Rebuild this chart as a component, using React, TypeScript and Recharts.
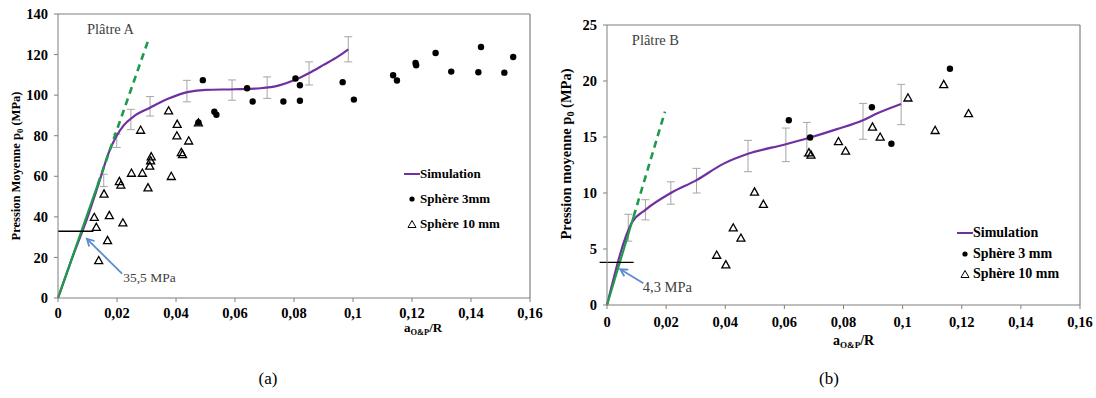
import {
  ComposedChart,
  Line,
  Scatter,
  XAxis,
  YAxis,
  ReferenceLine,
  ReferenceDot,
  ErrorBar,
} from "recharts";

const FONT = "'Liberation Serif', 'Times New Roman', serif";

const xTicks = [0, 0.02, 0.04, 0.06, 0.08, 0.1, 0.12, 0.14, 0.16];
const yTicksA = [0, 20, 40, 60, 80, 100, 120, 140];
const yTicksB = [0, 5, 10, 15, 20, 25];

// ---- Plâtre A ----
const simA: [number, number][] = [
  [0, 0], [0.005, 20.5], [0.0103, 41], [0.0137, 56], [0.0177, 73.5], [0.0197, 79.5],
  [0.0222, 85], [0.0255, 89.3], [0.0312, 93.8], [0.0375, 98.3], [0.0443, 101.6],
  [0.05, 102.6], [0.06, 102.9], [0.0686, 103.4], [0.075, 104.8], [0.08, 107.3],
  [0.085, 110.8], [0.09, 114.9], [0.095, 119.1], [0.0984, 122.6],
];
const errA: [number, number, number][] = [
  [0.0155, 58, 3], [0.0199, 77.5, 3.3], [0.0247, 88, 5], [0.0312, 94.5, 4.8],
  [0.0437, 102, 5.3], [0.059, 102.5, 5], [0.0709, 103.7, 5.3], [0.0851, 110.7, 5.7],
  [0.0984, 122.6, 6.2],
];
const greenSolidA: [number, number][] = [[0, 0], [0.0135, 56]];
const greenDashA: [number, number][] = [[0.0135, 56], [0.0307, 127.5]];
const sphere3A: [number, number][] = [
  [0.0491, 107.4], [0.053, 91.8], [0.0537, 90.3], [0.0476, 86.6], [0.0641, 103.4],
  [0.066, 96.9], [0.0764, 96.9], [0.0805, 108.2], [0.082, 104.9], [0.082, 97.2],
  [0.0965, 106.4], [0.1003, 97.8], [0.1136, 109.8], [0.1149, 107.2], [0.1212, 115.9],
  [0.1214, 114.7], [0.128, 120.8], [0.1333, 111.6], [0.1434, 123.7], [0.1425, 111.3],
  [0.1513, 111.1], [0.1543, 118.8],
];
const sphere10A: [number, number][] = [
  [0.0375, 92.3], [0.0404, 85.7], [0.0403, 80], [0.0443, 77.5], [0.0418, 71.8],
  [0.0422, 70.8], [0.028, 82.8], [0.0316, 69.7], [0.0314, 67.7], [0.0311, 65.1],
  [0.0249, 61.6], [0.0286, 61.6], [0.0384, 60], [0.0208, 57.5], [0.0213, 55.7],
  [0.0305, 54.4], [0.0156, 51.3], [0.0123, 39.8], [0.0174, 40.7], [0.013, 34.9],
  [0.022, 37.1], [0.0168, 28.4], [0.0138, 18.5], [0.0476, 86.4],
];
const thresholdA: [number, number][] = [[0, 32.9], [0.012, 32.9]];
const arrowA: [number, number][] = [[0.0217, 12], [0.0098, 29.2]];

// ---- Plâtre B ----
const simB: [number, number][] = [
  [0, 0], [0.0085, 7.4], [0.013, 8.5], [0.0216, 10], [0.0303, 11.15], [0.0393, 12.6],
  [0.0477, 13.5], [0.0605, 14.35], [0.0687, 14.95], [0.0778, 15.7], [0.0866, 16.5],
  [0.0913, 17.1], [0.0995, 17.95],
];
const errB: [number, number, number][] = [
  [0.0072, 6.9, 1.2], [0.013, 8.5, 0.9], [0.0216, 10, 1], [0.0303, 11.1, 1.1],
  [0.0477, 13.3, 1.4], [0.0605, 14.3, 1.5], [0.0676, 14.8, 1.5], [0.0866, 16.4, 1.6],
  [0.0995, 17.9, 1.8],
];
const greenSolidB: [number, number][] = [[0, 0], [0.009, 7.9]];
const greenDashB: [number, number][] = [[0.009, 7.9], [0.0196, 17.26]];
const sphere3B: [number, number][] = [
  [0.0615, 16.5], [0.0687, 14.95], [0.0896, 17.65], [0.0962, 14.4], [0.116, 21.1],
];
const sphere10B: [number, number][] = [
  [0.0499, 10.1], [0.0529, 9], [0.0427, 6.9], [0.0453, 5.98], [0.0371, 4.46],
  [0.0402, 3.6], [0.0683, 13.6], [0.069, 13.4], [0.0783, 14.6], [0.0807, 13.75],
  [0.0898, 15.9], [0.0924, 15], [0.1018, 18.5], [0.1139, 19.7], [0.1223, 17.1],
  [0.111, 15.6],
];
const thresholdB: [number, number][] = [[-0.0025, 3.81], [0.009, 3.81]];
const arrowB: [number, number][] = [[0.0123, 1.94], [0.0045, 3.19]];

const xy = (pts: [number, number][]) => pts.map(([x, y]) => ({ x, y }));
const xye = (pts: [number, number, number][]) => pts.map(([x, y, e]) => ({ x, y, e }));

const fmt = (v: number) => (v === 0 ? "0" : String(v).replace(".", ","));

const PURPLE = "#7030a0";
const GREEN = "#1e9a4c";
const AXIS = "#7f7f7f";
const ARROW = "#5b8bd0";

const Dot = (p: any) => <circle cx={p.cx} cy={p.cy} r={3.2} fill="#000" />;
const Tri = (p: any) => {
  const s = 4;
  return (
    <polygon
      points={`${p.cx},${p.cy - s} ${p.cx + s},${p.cy + s * 0.8} ${p.cx - s},${p.cy + s * 0.8}`}
      fill="none"
      stroke="#000"
      strokeWidth={1.3}
    />
  );
};
const NoShape = () => <g />;

const Arrow = (p: any) => {
  const { x1, y1, x2, y2 } = p;
  const a = Math.atan2(y2 - y1, x2 - x1);
  const L = 8;
  const w = 0.5;
  return (
    <g>
      <line x1={x1} y1={y1} x2={x2} y2={y2} stroke={ARROW} strokeWidth={1.8} />
      <polyline
        points={`${x2 - L * Math.cos(a - w)},${y2 - L * Math.sin(a - w)} ${x2},${y2} ${x2 - L * Math.cos(a + w)},${y2 - L * Math.sin(a + w)}`}
        fill="none"
        stroke={ARROW}
        strokeWidth={1.8}
      />
    </g>
  );
};

const tickStyle = { fontSize: 14.5, fontWeight: 700, fill: "#000", fontFamily: FONT };

function YLabel({ x, y, size, text }: { x: number; y: number; size: number; text: string }) {
  return (
    <text
      x={x}
      y={y}
      transform={`rotate(-90 ${x} ${y})`}
      textAnchor="middle"
      fontFamily={FONT}
      fontWeight={700}
      fontSize={size}
      fill="#000"
    >
      {text}
      <tspan dy={3} fontSize={size * 0.7}>0</tspan>
      <tspan dy={-3}> (MPa)</tspan>
    </text>
  );
}

function XLabel({ x, y, size }: { x: number; y: number; size: number }) {
  return (
    <text x={x} y={y} fontFamily={FONT} fontWeight={700} fontSize={size} fill="#000">
      a
      <tspan dy={3} fontSize={size * 0.65}>O&amp;P</tspan>
      <tspan dy={-3}>/R</tspan>
    </text>
  );
}

function LegendBox({
  left, top, gap, size, s3,
}: { left: number; top: number; gap: number; size: number; s3: string }) {
  const row = { display: "flex", alignItems: "center", height: gap } as const;
  const txt = { fontFamily: FONT, fontWeight: 700, fontSize: size, color: "#000", lineHeight: 1 };
  return (
    <div style={{ position: "absolute", left, top }}>
      <div style={row}>
        <svg width={16} height={8}><line x1={0} y1={4} x2={16} y2={4} stroke={PURPLE} strokeWidth={2} /></svg>
        <span style={txt}>Simulation</span>
      </div>
      <div style={row}>
        <svg width={16} height={8}><circle cx={8} cy={4} r={2.6} fill="#000" /></svg>
        <span style={txt}>{s3}</span>
      </div>
      <div style={row}>
        <svg width={16} height={10}><polygon points="8,1.5 12,8.5 4,8.5" fill="none" stroke="#000" strokeWidth={1} /></svg>
        <span style={txt}>Sphère 10 mm</span>
      </div>
    </div>
  );
}

export default function App() {
  return (
    <div style={{ position: "relative", width: 1096, height: 398, background: "#fff", fontFamily: FONT }}>
      <style>{`body{margin:0} svg text{font-family:'Liberation Serif','Times New Roman',serif !important}`}</style>

      {/* (a) Plâtre A */}
      <div style={{ position: "absolute", left: 0, top: 0 }}>
        <ComposedChart width={560} height={345} margin={{ top: 14, right: 30, left: 22, bottom: 17 }}>
          <XAxis
            dataKey="x"
            type="number"
            domain={[0, 0.16]}
            ticks={xTicks}
            interval={0}
            tickFormatter={fmt}
            tick={tickStyle}
            height={30}
            tickSize={4}
            tickMargin={6}
            stroke={AXIS}
            label={{ content: () => <XLabel x={404} y={332} size={13} /> }}
          />
          <YAxis
            type="number"
            domain={[0, 140]}
            ticks={yTicksA}
            interval={0}
            tick={tickStyle}
            width={36}
            tickSize={4}
            tickMargin={6}
            stroke={AXIS}
            label={{ content: () => <YLabel x={20} y={166} size={12.5} text="Pression Moyenne p" /> }}
          />
          <ReferenceLine y={140} stroke={AXIS} strokeWidth={1.2} />
          <ReferenceLine x={0.16} stroke={AXIS} strokeWidth={1.2} />
          <Scatter data={xye(errA)} dataKey="y" shape={NoShape} isAnimationActive={false}>
            <ErrorBar dataKey="e" direction="y" width={4} stroke="#a6a6a6" strokeWidth={1} />
          </Scatter>
          <Line data={xy(simA)} dataKey="y" type="monotone" stroke={PURPLE} strokeWidth={2.2} dot={false} isAnimationActive={false} />
          <Line data={xy(greenSolidA)} dataKey="y" type="linear" stroke={GREEN} strokeWidth={2.2} dot={false} isAnimationActive={false} />
          <Line data={xy(greenDashA)} dataKey="y" type="linear" stroke={GREEN} strokeWidth={2.6} strokeDasharray="7 5" dot={false} isAnimationActive={false} />
          <ReferenceLine segment={xy(thresholdA)} stroke="#000" strokeWidth={1.3} />
          <ReferenceLine segment={xy(arrowA)} shape={Arrow} />
          <Scatter data={xy(sphere10A)} dataKey="y" shape={Tri} isAnimationActive={false} />
          <Scatter data={xy(sphere3A)} dataKey="y" shape={Dot} isAnimationActive={false} />
          <ReferenceDot x={0.0098} y={132.6} r={0} fill="none" stroke="none"
            label={{ value: "Plâtre A", position: "right", offset: 0, fontSize: 14.5, fontFamily: FONT, fill: "#404040" }} />
          <ReferenceDot x={0.0221} y={10.2} r={0} fill="none" stroke="none"
            label={{ value: "35,5 MPa", position: "right", offset: 0, fontSize: 13.5, fontFamily: FONT, fill: "#404040" }} />
        </ComposedChart>
        <LegendBox left={404} top={161} gap={25} size={13} s3="Sphère 3mm" />
      </div>

      {/* (b) Plâtre B */}
      <div style={{ position: "absolute", left: 550, top: 0 }}>
        <ComposedChart width={546} height={350} margin={{ top: 25, right: 16, left: 21, bottom: 15 }}>
          <XAxis
            dataKey="x"
            type="number"
            domain={[0, 0.16]}
            ticks={xTicks}
            interval={0}
            tickFormatter={fmt}
            tick={tickStyle}
            height={30}
            tickSize={4}
            tickMargin={8}
            stroke={AXIS}
            label={{ content: () => <XLabel x={283} y={345} size={14} /> }}
          />
          <YAxis
            type="number"
            domain={[0, 25]}
            ticks={yTicksB}
            interval={0}
            tick={tickStyle}
            width={36}
            tickSize={4}
            tickMargin={6}
            stroke={AXIS}
            label={{ content: () => <YLabel x={21} y={154} size={14.5} text="Pression moyenne p" /> }}
          />
          <ReferenceLine y={25} stroke={AXIS} strokeWidth={1.2} />
          <ReferenceLine x={0.16} stroke={AXIS} strokeWidth={1.2} />
          <Scatter data={xye(errB)} dataKey="y" shape={NoShape} isAnimationActive={false}>
            <ErrorBar dataKey="e" direction="y" width={4} stroke="#a6a6a6" strokeWidth={1} />
          </Scatter>
          <Line data={xy(simB)} dataKey="y" type="monotone" stroke={PURPLE} strokeWidth={2.2} dot={false} isAnimationActive={false} />
          <Line data={xy(greenSolidB)} dataKey="y" type="linear" stroke={GREEN} strokeWidth={2.2} dot={false} isAnimationActive={false} />
          <Line data={xy(greenDashB)} dataKey="y" type="linear" stroke={GREEN} strokeWidth={2.6} strokeDasharray="7 5" dot={false} isAnimationActive={false} />
          <ReferenceLine segment={xy(thresholdB)} stroke="#000" strokeWidth={1.3} ifOverflow="visible" />
          <ReferenceLine segment={xy(arrowB)} shape={Arrow} />
          <Scatter data={xy(sphere10B)} dataKey="y" shape={Tri} isAnimationActive={false} />
          <Scatter data={xy(sphere3B)} dataKey="y" shape={Dot} isAnimationActive={false} />
          <ReferenceDot x={0.0084} y={23.7} r={0} fill="none" stroke="none"
            label={{ value: "Plâtre B", position: "right", offset: 0, fontSize: 14.5, fontFamily: FONT, fill: "#404040" }} />
          <ReferenceDot x={0.0121} y={1.6} r={0} fill="none" stroke="none"
            label={{ value: "4,3 MPa", position: "right", offset: 0, fontSize: 14.5, fontFamily: FONT, fill: "#404040" }} />
        </ComposedChart>
        <LegendBox left={407} top={223} gap={20.5} size={14} s3="Sphère 3 mm" />
      </div>

      <div style={{ position: "absolute", left: 0, width: 536, top: 369, textAlign: "center", fontSize: 17 }}>(a)</div>
      <div style={{ position: "absolute", left: 560, width: 538, top: 369, textAlign: "center", fontSize: 17 }}>(b)</div>
    </div>
  );
}
